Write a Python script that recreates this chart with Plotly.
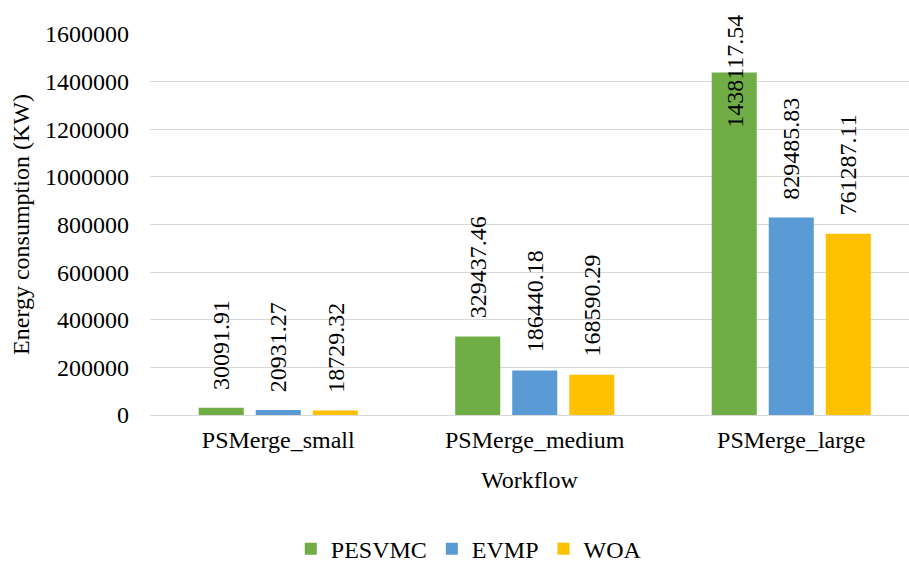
import plotly.graph_objects as go

# Energy consumption per workflow size and method
workflows = ["PSMerge_small", "PSMerge_medium", "PSMerge_large"]
pesvmc = [30091.91, 329437.46, 1438117.54]
evmp = [20931.27, 186440.18, 829485.83]
woa = [18729.32, 168590.29, 761287.11]

series = [
    ("PESVMC", pesvmc, "#70ad47"),
    ("EVMP", evmp, "#5b9bd5"),
    ("WOA", woa, "#ffc000"),
]

FONT = "Liberation Serif"
FS = 24
W, H = 909, 565
M_L, M_R, M_T, M_B = 150, 0, 34, 150
Y_MAX = 1600000
plot_h = H - M_T - M_B
slot_px = 57  # centre-to-centre distance of bars inside a group

fig = go.Figure()
for name, vals, color in series:
    fig.add_trace(go.Bar(
        name=name, x=workflows, y=vals,
        marker=dict(color=color, line=dict(width=0)),
    ))


def label_len_px(txt):
    return sum(0.25 * FS if c == "." else 0.5 * FS for c in txt)


annotations = []
for i, (name, vals, color) in enumerate(series):
    for cat, v in zip(workflows, vals):
        txt = f"{v:.2f}"
        top_px = M_T + (1 - v / Y_MAX) * plot_h
        gap = 16
        common = dict(
            x=cat, xref="x", xshift=(i - 1) * slot_px, text=txt,
            textangle=-90, showarrow=False,
            font=dict(family=FONT, size=FS, color="black"),
            xanchor="center",
        )
        if top_px - gap - label_len_px(txt) < 8:
            # keep the label inside the figure: pin it near the top edge
            annotations.append(dict(common, yref="paper",
                                    y=1 + (M_T - 13) / plot_h, yanchor="top"))
        else:
            annotations.append(dict(common, yref="y", y=v, yanchor="bottom",
                                    yshift=gap))

fig.update_layout(
    width=W, height=H,
    margin=dict(l=M_L, r=M_R, t=M_T, b=M_B, autoexpand=False),
    paper_bgcolor="white", plot_bgcolor="white",
    font=dict(family=FONT, size=FS, color="black"),
    barmode="group", bargap=0.333, bargroupgap=0.21,
    annotations=annotations,
    legend=dict(orientation="h", x=0.42, xanchor="center", y=-0.352,
                yanchor="middle", font=dict(family=FONT, size=FS, color="black"),
                itemwidth=30, tracegroupgap=0),
    xaxis=dict(
        range=[-0.5, 2.459], showgrid=False, showline=False,
        ticks="", ticklabelstandoff=8,
        tickfont=dict(family=FONT, size=FS, color="black"),
        title=dict(text="Workflow", standoff=19,
                   font=dict(family=FONT, size=FS, color="black")),
    ),
    yaxis=dict(
        range=[0, Y_MAX], dtick=200000, tickformat="d",
        showgrid=True, gridcolor="#d9d9d9", gridwidth=1.3,
        zeroline=True, zerolinecolor="#d9d9d9", zerolinewidth=1.3,
        showline=False, ticks="", ticklabelstandoff=20,
        tickfont=dict(family=FONT, size=FS, color="black"),
        title=dict(text="Energy consumption (KW)", standoff=8,
                   font=dict(family=FONT, size=FS, color="black")),
    ),
)

fig.write_html("out.html")
